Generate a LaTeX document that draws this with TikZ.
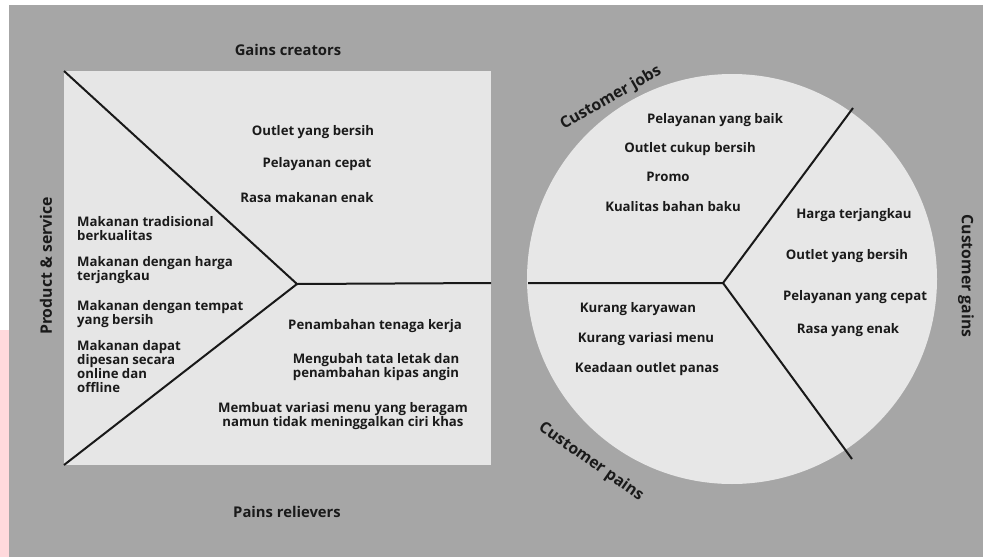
\documentclass[tikz,border=0pt]{standalone}
\usepackage{fontspec}
\setmainfont{Open Sans}
\definecolor{bg}{HTML}{A6A6A6}
\definecolor{panel}{HTML}{E6E6E6}
\definecolor{pinkstrip}{HTML}{FFD9DC}
\definecolor{ink}{HTML}{1A1A1A}
\begin{document}
\begin{tikzpicture}[x=1pt,y=-1pt,
  txt/.style={text=ink,font=\bfseries\fontsize{13.2}{14}\selectfont,align=center,inner sep=0pt},
  ltxt/.style={txt,align=left},
  lbl/.style={text=ink,font=\bfseries\fontsize{15.8}{17}\selectfont,inner sep=0pt},
  sep/.style={draw=black!90,line width=2pt}]
\useasboundingbox (0,0) rectangle (983,557);
% background
\fill[white] (0,0) rectangle (983,557);
\fill[pinkstrip] (0,330) rectangle (9,557);
\fill[bg] (9,5) rectangle (983,557);
% square canvas
\fill[panel] (64,71) rectangle (491,465);
\coordinate (tl) at (64,71);
\coordinate (bl) at (64,465);
\coordinate (hub) at (297,284);
\coordinate (rr) at (491,283);
\draw[sep] (tl) -- (hub) -- (bl);
\draw[sep] (hub) -- (rr);
% circle
\fill[panel!98!white] (732,279) circle (205);
\coordinate (chub) at (723,283);
\coordinate (cl) at (528,283);
\coordinate (ctr) at (853,108);
\coordinate (cbr) at (852,459);
\draw[sep] (cl) -- (chub) -- (ctr);
\draw[sep] (chub) -- (cbr);
% labels
\node[lbl,font=\bfseries\fontsize{14.8}{16}\selectfont] (gc) at (288,50) {Gains creators};
\node[lbl,font=\bfseries\fontsize{14.8}{16}\selectfont] (pr) at (287,512) {Pains relievers};
\node[lbl,rotate=90] (ps) at (46,266) {Product \& service};
\node[lbl,rotate=30] (cj) at (611,98) {Customer jobs};
\node[lbl,rotate=-35] (cp) at (591,462) {Customer pains};
\node[lbl,rotate=-90] (cg) at (966,276) {Customer gains};
% gains creators
\node[txt] (g1) at (313,132) {Outlet yang bersih};
\node[txt] (g2) at (317,164) {Pelayanan cepat};
\node[txt] (g3) at (307,198) {Rasa makanan enak};
% products
\node[ltxt,anchor=west] (p1) at (77,228.5) {Makanan tradisional\\berkualitas};
\node[ltxt,anchor=west] (p2) at (77,270.5) {Makanan dengan harga\\terjangkau};
\node[ltxt,anchor=west] (p3) at (77,314.5) {Makanan dengan tempat\\yang bersih};
\node[ltxt,anchor=west] (p4) at (77,367) {Makanan dapat\\dipesan secara\\online dan\\offline};
% pain relievers
\node[txt] (r1) at (375,326) {Penambahan tenaga kerja};
\node[txt] (r2) at (376,367.5) {Mengubah tata letak dan\\penambahan kipas angin};
\node[txt] (r3) at (343,416) {Membuat variasi menu yang beragam\\namun tidak meninggalkan ciri khas};
% customer jobs
\node[txt] (j1) at (715,120) {Pelayanan yang baik};
\node[txt] (j2) at (690,149) {Outlet cukup bersih};
\node[txt] (j3) at (668,177) {Promo};
\node[txt] (j4) at (673,207) {Kualitas bahan baku};
% customer pains
\node[txt] (k1) at (638,309) {Kurang karyawan};
\node[txt] (k2) at (646,339) {Kurang variasi menu};
\node[txt] (k3) at (647,369) {Keadaan outlet panas};
% customer gains
\node[txt] (c1) at (854,215) {Harga terjangkau};
\node[txt] (c2) at (847,256) {Outlet yang bersih};
\node[txt] (c3) at (855,297) {Pelayanan yang cepat};
\node[txt] (c4) at (848,330) {Rasa yang enak};
\end{tikzpicture}
\end{document}
